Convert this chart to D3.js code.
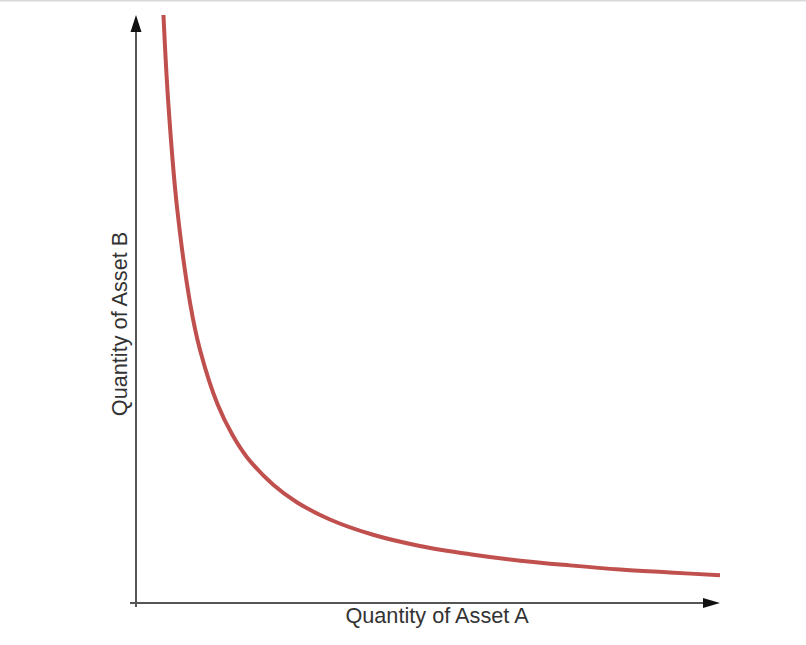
<!DOCTYPE html>
<html>
<head>
<meta charset="utf-8">
<script src="https://cdn.jsdelivr.net/npm/d3@7"></script>
<style>
  html, body { margin: 0; padding: 0; background: #fff; }
  svg { display: block; }
</style>
</head>
<body>
<svg id="chart" width="806" height="645"></svg>
<script>
// Data (quantity of asset A vs. quantity of asset B)
const assetA = [0.47, 0.55, 0.70, 0.93, 1.10, 1.40, 1.65, 1.90, 2.35, 2.76, 3.32, 4.06, 4.86, 5.72, 6.58, 7.43, 8.29, 9.14, 10.0];
const assetB = [10.0, 8.55, 6.75, 5.08, 4.29, 3.37, 2.86, 2.48, 2.01, 1.71, 1.42, 1.16, 0.97, 0.83, 0.72, 0.64, 0.57, 0.52, 0.47];
const xLabel = "Quantity of Asset A";
const yLabel = "Quantity of Asset B";

const svg = d3.select("#chart");
const W = 806, H = 645;

// top grey rule
svg.append("line")
  .attr("x1", 0).attr("x2", W).attr("y1", 0.5).attr("y2", 0.5)
  .attr("stroke", "#d9d9d9").attr("stroke-width", 2);

const x = d3.scaleLinear().domain([0, 10]).range([136, 720]);
const y = d3.scaleLinear().domain([0, 10]).range([603, 15]);

const axisColor = "#555";

// Y axis line
svg.append("line")
  .attr("x1", x(0)).attr("x2", x(0))
  .attr("y1", 607).attr("y2", y(10) + 12)
  .attr("stroke", axisColor).attr("stroke-width", 2);
// Y arrow head
svg.append("path")
  .attr("d", `M${x(0)},${y(10)} L${x(0) - 5.5},${y(10) + 17} L${x(0) + 5.5},${y(10) + 17} Z`)
  .attr("fill", "#111");

// X axis line
svg.append("line")
  .attr("x1", 130).attr("x2", x(10) - 12)
  .attr("y1", y(0)).attr("y2", y(0))
  .attr("stroke", axisColor).attr("stroke-width", 2);
// X arrow head
svg.append("path")
  .attr("d", `M${x(10)},${y(0)} L${x(10) - 17},${y(0) - 5} L${x(10) - 17},${y(0) + 5} Z`)
  .attr("fill", "#111");

// curve
const pts = assetA.map((a, i) => [a, assetB[i]]);
const line = d3.line()
  .x(d => x(d[0]))
  .y(d => y(d[1]))
  .curve(d3.curveCatmullRom.alpha(0.5));
svg.append("path")
  .datum(pts)
  .attr("d", line)
  .attr("fill", "none")
  .attr("stroke", "#c0504d")
  .attr("stroke-width", 4);

// labels
svg.append("text")
  .attr("x", 437).attr("y", 622.5)
  .attr("text-anchor", "middle")
  .attr("font-family", "Liberation Sans, Arial, sans-serif")
  .attr("font-size", 21.7)
  .attr("fill", "#333")
  .text(xLabel);

svg.append("text")
  .attr("transform", "translate(127,324) rotate(-90)")
  .attr("text-anchor", "middle")
  .attr("font-family", "Liberation Sans, Arial, sans-serif")
  .attr("font-size", 21.7)
  .attr("fill", "#333")
  .text(yLabel);
</script>
</body>
</html>
